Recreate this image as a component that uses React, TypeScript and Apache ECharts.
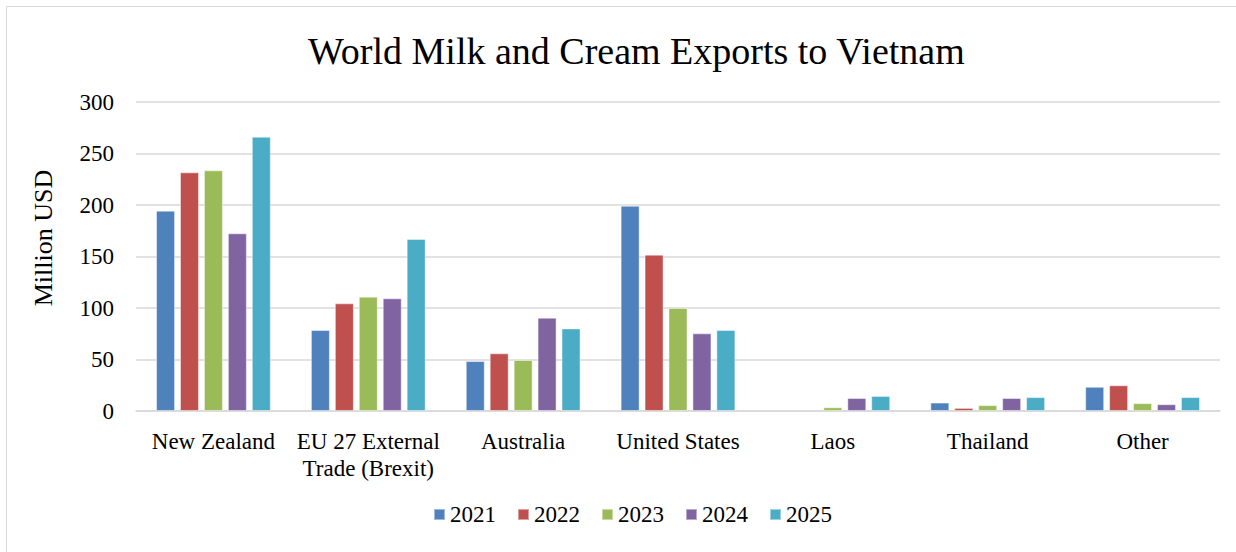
import React, { useEffect, useRef } from "react";
import * as echarts from "echarts";

const categories = [
  "New Zealand",
  "EU 27 External\nTrade (Brexit)",
  "Australia",
  "United States",
  "Laos",
  "Thailand",
  "Other",
];
const years = ["2021", "2022", "2023", "2024", "2025"];
const v2021 = [194.5, 78.6, 48.5, 199.3, null, 8.2, 23.5];
const v2022 = [231.7, 104.5, 56, 151.8, null, 3, 25];
const v2023 = [233.7, 111, 49.5, 100, 3.6, 5.7, 7.6];
const v2024 = [172.5, 109.4, 90.6, 75.4, 12.6, 12.6, 6.6];
const v2025 = [266.3, 167, 80.2, 78.6, 14.6, 13.5, 13.5];
const yTicks = [0, 50, 100, 150, 200, 250, 300];
const colors = ["#4F81BD", "#C0504D", "#9BBB59", "#8064A2", "#4BACC6"];

const FONT = "Liberation Serif";

export default function App() {
  const ref = useRef<HTMLDivElement>(null);
  useEffect(() => {
    if (!ref.current) return;
    const chart = echarts.init(ref.current, undefined, { renderer: "svg" });
    const values = [v2021, v2022, v2023, v2024, v2025];
    const legendText = { fontFamily: FONT, fontSize: 23, color: "#000", fontWeight: "normal" };
    chart.setOption({
      animation: false,
      backgroundColor: "#ffffff",
      textStyle: { fontFamily: FONT },
      title: {
        text: "World Milk and Cream Exports to Vietnam",
        left: 303,
        top: 27,
        textStyle: { fontFamily: FONT, fontSize: 38, fontWeight: "normal", color: "#000" },
      },
      legend: {
        data: years.map((name) => ({ name, textStyle: legendText })),
        bottom: 21,
        left: 428,
        itemWidth: 11,
        itemHeight: 11,
        itemGap: 21,
        icon: "rect",
        textStyle: legendText,
      },
      grid: { left: 136, right: 16, top: 102, bottom: 141, containLabel: false },
      xAxis: {
        type: "category",
        data: categories,
        axisLine: { lineStyle: { color: "#d9d9d9", width: 1.5 } },
        axisTick: { show: false },
        axisLabel: {
          fontFamily: FONT,
          fontSize: 23,
          color: "#000",
          margin: 17,
          lineHeight: 27,
          interval: 0,
        },
      },
      yAxis: {
        type: "value",
        min: yTicks[0],
        max: yTicks[yTicks.length - 1],
        interval: 50,
        axisLine: { show: false },
        axisTick: { show: false },
        splitLine: { lineStyle: { color: "#d9d9d9", width: 1.5 } },
        axisLabel: { fontFamily: FONT, fontSize: 23, color: "#000", margin: 22 },
      },
      graphic: [
        {
          type: "rect",
          shape: { x: 6.5, y: 6.5, width: 1250, height: 570 },
          style: { fill: "none", stroke: "#d9d9d9", lineWidth: 1 },
          silent: true,
        },
        {
          type: "text",
          x: 43,
          y: 238,
          rotation: Math.PI / 2,
          style: {
            text: "Million USD",
            font: `26px ${FONT}`,
            fill: "#000",
            align: "center",
            verticalAlign: "middle",
          },
        },
      ],
      series: years.map((y, i) => ({
        name: y,
        type: "bar",
        data: values[i],
        barWidth: 19,
        barGap: "26%",
        itemStyle: {
          color: colors[i],
          borderColor: "rgba(255,255,255,0.45)",
          borderWidth: 1,
        },
      })),
    });
    return () => chart.dispose();
  }, []);
  return (
    <div
      ref={ref}
      style={{ position: "fixed", left: 0, top: 0, width: 1236, height: 552 }}
    />
  );
}
